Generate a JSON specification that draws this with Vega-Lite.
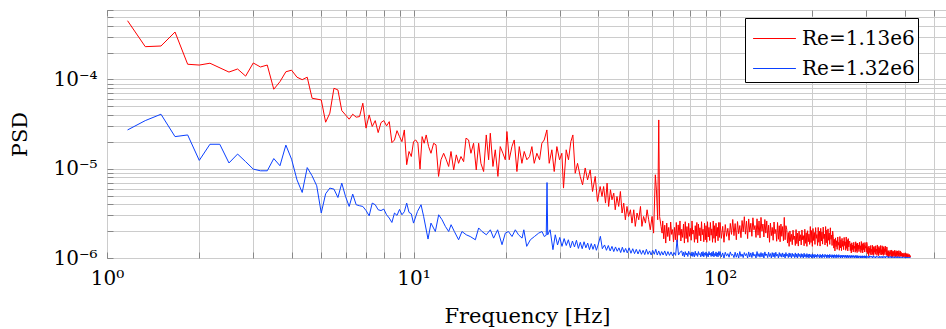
{
"$schema":"https://vega.github.io/schema/vega-lite/v6.json",
"width":840,"height":248,
"autosize":{"type":"none"},
"padding":{"left":107,"top":10,"right":0,"bottom":71},
"background":"white",
"config":{"font":"DejaVu Serif","view":{"stroke":"#222","strokeWidth":1}},
"datasets":{
"red":[{"f":1.167,"v":4.55e-4},{"f":1.333,"v":2.33e-4},{"f":1.5,"v":2.37e-4},{"f":1.667,"v":3.4e-4},{"f":1.833,"v":1.48e-4},{"f":2,"v":1.45e-4},{"f":2.167,"v":1.52e-4},{"f":2.5,"v":1.21e-4},{"f":2.667,"v":1.31e-4},{"f":2.833,"v":1.09e-4},{"f":3,"v":1.53e-4},{"f":3.167,"v":1.38e-4},{"f":3.333,"v":1.45e-4},{"f":3.5,"v":7.77e-5},{"f":3.667,"v":9.45e-5},{"f":3.833,"v":1.22e-4},{"f":4,"v":1.27e-4},{"f":4.167,"v":1.06e-4},{"f":4.333,"v":9.95e-5},{"f":4.5,"v":1.06e-4},{"f":4.667,"v":6.16e-5},{"f":5,"v":5.9e-5},{"f":5.167,"v":3.32e-5},{"f":5.333,"v":4.19e-5},{"f":5.5,"v":7.97e-5},{"f":5.667,"v":7.63e-5},{"f":5.833,"v":4.48e-5},{"f":6,"v":4.01e-5},{"f":6.167,"v":3.59e-5},{"f":6.333,"v":4.08e-5},{"f":6.5,"v":3.78e-5},{"f":6.667,"v":3.84e-5},{"f":6.833,"v":5.42e-5},{"f":7,"v":2.85e-5},{"f":7.167,"v":4.01e-5},{"f":7.333,"v":2.97e-5},{"f":7.5,"v":3.46e-5},{"f":7.667,"v":2.54e-5},{"f":7.833,"v":3.29e-5},{"f":8,"v":3.46e-5},{"f":8.167,"v":3.02e-5},{"f":8.333,"v":3.37e-5},{"f":8.5,"v":1.96e-5},{"f":8.667,"v":2.1e-5},{"f":8.833,"v":2.67e-5},{"f":9,"v":2.29e-5},{"f":9.167,"v":2.01e-5},{"f":9.333,"v":2.72e-5},{"f":9.5,"v":1.11e-5},{"f":9.667,"v":1.56e-5},{"f":9.833,"v":1.37e-5},{"f":10,"v":2.01e-5},{"f":10.167,"v":2.1e-5},{"f":10.333,"v":1.93e-5},{"f":10.5,"v":9.9e-6},{"f":10.667,"v":2.29e-5},{"f":10.833,"v":1.93e-5},{"f":11,"v":2.39e-5},{"f":11.2,"v":1.77e-5},{"f":11.4,"v":1.49e-5},{"f":11.63,"v":1.93e-5},{"f":11.84,"v":1.85e-5},{"f":12.07,"v":8.2e-6},{"f":12.29,"v":1.26e-5},{"f":12.54,"v":1.49e-5},{"f":12.79,"v":1.26e-5},{"f":13.02,"v":1.06e-5},{"f":13.25,"v":1.56e-5},{"f":13.52,"v":9.7e-6},{"f":13.79,"v":1.43e-5},{"f":14.03,"v":1.15e-5},{"f":14.28,"v":1.37e-5},{"f":14.57,"v":1.2e-5},{"f":14.83,"v":2.2e-5},{"f":15.12,"v":2.1e-5},{"f":15.39,"v":1.49e-5},{"f":15.7,"v":1.93e-5},{"f":16.02,"v":9.7e-6},{"f":16.31,"v":1.93e-5},{"f":16.59,"v":1.15e-5},{"f":16.93,"v":9.3e-6},{"f":17.27,"v":2.39e-5},{"f":17.58,"v":1.26e-5},{"f":17.8,"v":2.5e-5},{"f":18.16,"v":1.06e-5},{"f":18.48,"v":1.63e-5},{"f":18.85,"v":8.2e-6},{"f":19.18,"v":1.77e-5},{"f":19.57,"v":1.49e-5},{"f":19.92,"v":1.26e-5},{"f":20.17,"v":2.61e-5},{"f":20.52,"v":1.26e-5},{"f":20.94,"v":1.77e-5},{"f":21.31,"v":2.1e-5},{"f":21.74,"v":9.3e-6},{"f":22.13,"v":1.77e-5},{"f":22.57,"v":1.15e-5},{"f":22.97,"v":1.56e-5},{"f":23.43,"v":1.26e-5},{"f":23.91,"v":1.37e-5},{"f":24.33,"v":1.77e-5},{"f":24.76,"v":1.15e-5},{"f":25.26,"v":1.49e-5},{"f":25.77,"v":1.26e-5},{"f":26.22,"v":1.93e-5},{"f":26.69,"v":2.1e-5},{"f":27.23,"v":2.72e-5},{"f":27.71,"v":1.15e-5},{"f":28.27,"v":1.63e-5},{"f":28.77,"v":9.3e-6},{"f":29.35,"v":1.77e-5},{"f":29.95,"v":1.26e-5},{"f":30.47,"v":1.49e-5},{"f":30.85,"v":6.07e-6},{"f":31.48,"v":1.63e-5},{"f":32.03,"v":1.26e-5},{"f":32.6,"v":2.01e-5},{"f":33.1,"v":2.39e-5},{"f":33.69,"v":8.9e-6},{"f":34.28,"v":1.15e-5},{"f":34.98,"v":8.2e-6},{"f":35.6,"v":6.6e-6},{"f":36.31,"v":1.02e-5},{"f":36.96,"v":7.5e-6},{"f":37.7,"v":9.7e-6},{"f":38.37,"v":5.56e-6},{"f":39.15,"v":8.2e-6},{"f":39.83,"v":4.3e-6},{"f":40.63,"v":6.32e-6},{"f":41.2,"v":4.89e-6},{"f":41.7,"v":6.32e-6},{"f":42.3,"v":4.12e-6},{"f":42.8,"v":6.9e-6},{"f":43.3,"v":3.78e-6},{"f":43.9,"v":5.81e-6},{"f":44.4,"v":4.49e-6},{"f":45,"v":5.33e-6},{"f":45.5,"v":3.47e-6},{"f":46.1,"v":4.89e-6},{"f":46.7,"v":3.78e-6},{"f":47.3,"v":5.56e-6},{"f":47.9,"v":3.19e-6},{"f":48.5,"v":4.12e-6},{"f":49.1,"v":2.68e-6},{"f":49.7,"v":3.78e-6},{"f":50.3,"v":2.92e-6},{"f":51,"v":3.47e-6},{"f":51.6,"v":2.46e-6},{"f":52.3,"v":3.47e-6},{"f":52.9,"v":2.26e-6},{"f":53.6,"v":3.19e-6},{"f":54.3,"v":2.68e-6},{"f":55,"v":3.78e-6},{"f":55.6,"v":2.26e-6},{"f":56.3,"v":2.92e-6},{"f":57.1,"v":2.46e-6},{"f":57.8,"v":3.47e-6},{"f":58.5,"v":2.68e-6},{"f":59.2,"v":2.07e-6},{"f":60,"v":2.92e-6},{"f":60.7,"v":1.9e-6},{"f":61.5,"v":8.55e-6},{"f":62,"v":5.81e-6},{"f":62.6,"v":2.68e-6},{"f":63.1,"v":3.52e-5},{"f":63.5,"v":2.92e-6},{"f":64.2,"v":2.26e-6},{"f":64.7,"v":1.9e-6},
{"f":65,"v":2.6e-6},{"f":65.5,"v":1.64e-6},{"f":66,"v":2.33e-6},{"f":66.5,"v":1.47e-6},{"f":67,"v":2.46e-6},{"f":67.5,"v":1.74e-6},{"f":68,"v":2.2e-6},{"f":68.5,"v":1.56e-6},{"f":69,"v":2.53e-6},{"f":69.5,"v":1.84e-6},{"f":70,"v":2.08e-6},{"f":70.5,"v":1.51e-6},{"f":71,"v":2.2e-6},{"f":71.5,"v":1.6e-6},{"f":72,"v":2.5e-6},{"f":72.5,"v":1.5e-6},{"f":73,"v":2.35e-6},{"f":73.5,"v":1.8e-6},{"f":74,"v":2.6e-6},{"f":74.5,"v":1.55e-6},{"f":75,"v":2.1e-6},{"f":75.5,"v":1.7e-6},{"f":76,"v":2.4e-6},{"f":76.5,"v":1.47e-6},{"f":77,"v":2.55e-6},{"f":77.5,"v":1.65e-6},{"f":78,"v":2.25e-6},{"f":78.5,"v":1.5e-6},{"f":79,"v":2.45e-6},{"f":79.5,"v":1.75e-6},{"f":80,"v":2.15e-6},{"f":80.5,"v":1.58e-6},{"f":81,"v":2.6e-6},{"f":81.5,"v":1.85e-6},{"f":82,"v":2.05e-6},{"f":82.5,"v":1.5e-6},{"f":83,"v":2.3e-6},{"f":83.5,"v":1.62e-6},{"f":84,"v":2.5e-6},{"f":84.5,"v":1.48e-6},{"f":85,"v":2.4e-6},{"f":85.5,"v":1.78e-6},{"f":86,"v":2.18e-6},{"f":86.5,"v":1.55e-6},{"f":87,"v":2.55e-6},{"f":87.5,"v":1.82e-6},{"f":88,"v":2.1e-6},{"f":88.5,"v":1.52e-6},{"f":89,"v":2.45e-6},{"f":89.5,"v":1.6e-6},{"f":90,"v":2.3e-6},{"f":90.5,"v":1.5e-6},{"f":91,"v":2.55e-6},{"f":91.5,"v":1.72e-6},{"f":92,"v":2.2e-6},{"f":92.5,"v":1.57e-6},{"f":93,"v":2.5e-6},{"f":93.5,"v":1.8e-6},{"f":94,"v":2.12e-6},{"f":94.5,"v":1.5e-6},{"f":95,"v":2.6e-6},{"f":95.5,"v":1.66e-6},{"f":96,"v":2.3e-6},{"f":96.5,"v":1.49e-6},{"f":97,"v":2.45e-6},{"f":97.5,"v":1.76e-6},{"f":98,"v":2.2e-6},{"f":98.5,"v":1.56e-6},{"f":99,"v":2.5e-6},{"f":99.5,"v":1.7e-6},
{"f":100,"v":2.5e-6},{"f":101,"v":1.66e-6},{"f":102,"v":2.26e-6},{"f":103,"v":1.5e-6},{"f":104,"v":2.37e-6},{"f":105,"v":1.75e-6},{"f":106,"v":2.15e-6},{"f":107,"v":1.58e-6},{"f":108,"v":2.44e-6},{"f":109,"v":1.84e-6},{"f":110,"v":2.7e-6},{"f":111,"v":1.78e-6},{"f":112,"v":2.43e-6},{"f":113,"v":1.6e-6},{"f":114,"v":2.56e-6},{"f":115,"v":1.87e-6},{"f":116,"v":2.31e-6},{"f":117,"v":1.69e-6},{"f":118,"v":2.63e-6},{"f":119,"v":1.97e-6},{"f":120,"v":2.9e-6},{"f":121,"v":1.85e-6},{"f":122,"v":2.59e-6},{"f":123,"v":1.65e-6},{"f":124,"v":2.74e-6},{"f":125,"v":1.95e-6},{"f":126,"v":2.45e-6},{"f":127,"v":1.75e-6},{"f":128,"v":2.82e-6},{"f":129,"v":2.07e-6},{"f":130,"v":2.31e-6},{"f":131,"v":1.7e-6},{"f":132,"v":2.75e-6},{"f":133,"v":1.8e-6},{"f":134,"v":2.6e-6},{"f":135,"v":1.68e-6},{"f":136,"v":2.85e-6},{"f":137,"v":2.0e-6},{"f":138,"v":2.4e-6},{"f":139,"v":1.72e-6},{"f":140,"v":2.7e-6},{"f":141,"v":1.9e-6},{"f":142,"v":2.6e-6},{"f":143,"v":1.68e-6},{"f":144,"v":2.33e-6},{"f":145,"v":1.5e-6},{"f":146,"v":2.46e-6},{"f":147,"v":1.78e-6},{"f":148,"v":2.2e-6},{"f":149,"v":1.58e-6},{"f":150,"v":2.53e-6},{"f":151,"v":1.87e-6},{"f":152,"v":2.09e-6},{"f":153,"v":1.54e-6},{"f":154,"v":2.5e-6},{"f":155,"v":1.62e-6},{"f":156,"v":2.3e-6},{"f":157,"v":1.52e-6},{"f":158,"v":2.4e-6},{"f":159,"v":1.75e-6},{"f":160,"v":2.25e-6},{"f":161,"v":1.56e-6},{"f":162,"v":2.85e-6},{"f":163,"v":1.6e-6},{"f":164,"v":2.3e-6},{"f":165,"v":2.1e-6},{"f":166,"v":1.47e-6},{"f":167,"v":1.93e-6},{"f":168,"v":1.35e-6},{"f":169,"v":2.01e-6},{"f":170,"v":1.53e-6},{"f":171,"v":1.84e-6},{"f":172,"v":1.41e-6},{"f":173,"v":2.05e-6},{"f":174,"v":1.61e-6},{"f":175,"v":1.76e-6},{"f":176,"v":1.38e-6},{"f":177,"v":2.08e-6},{"f":178,"v":1.45e-6},{"f":179,"v":1.9e-6},{"f":180,"v":1.36e-6},{"f":181,"v":2.0e-6},{"f":182,"v":1.55e-6},{"f":183,"v":1.82e-6},{"f":184,"v":1.4e-6},{"f":185,"v":2.06e-6},{"f":186,"v":1.6e-6},{"f":187,"v":1.78e-6},{"f":188,"v":1.37e-6},{"f":189,"v":2.1e-6},{"f":190,"v":1.46e-6},{"f":191,"v":1.92e-6},{"f":192,"v":1.35e-6},{"f":193,"v":2.02e-6},{"f":194,"v":1.52e-6},{"f":195,"v":1.85e-6},{"f":196,"v":1.42e-6},{"f":197,"v":2.25e-6},{"f":198,"v":1.49e-6},{"f":199,"v":2.03e-6},{"f":200,"v":1.35e-6},{"f":201,"v":2.14e-6},{"f":202,"v":1.57e-6},{"f":203,"v":1.93e-6},{"f":204,"v":1.42e-6},{"f":205,"v":2.19e-6},{"f":206,"v":1.66e-6},{"f":207,"v":1.83e-6},{"f":208,"v":1.38e-6},{"f":209,"v":2.2e-6},{"f":210,"v":1.5e-6},{"f":211,"v":2.0e-6},{"f":212,"v":1.36e-6},{"f":213,"v":2.15e-6},{"f":214,"v":1.55e-6},{"f":215,"v":1.95e-6},{"f":216,"v":1.43e-6},{"f":217,"v":2.22e-6},{"f":218,"v":1.65e-6},{"f":219,"v":1.85e-6},{"f":220,"v":1.4e-6},{"f":221,"v":2.25e-6},{"f":222,"v":1.48e-6},{"f":223,"v":2.05e-6},{"f":224,"v":1.35e-6},{"f":225,"v":2.12e-6},{"f":226,"v":1.58e-6},{"f":227,"v":1.9e-6},{"f":228,"v":1.42e-6},{"f":229,"v":2.18e-6},{"f":230,"v":1.62e-6},{"f":231,"v":1.8e-6},{"f":232,"v":1.38e-6},{"f":233,"v":2.0e-6},{"f":234,"v":1.75e-6},{"f":235,"v":1.29e-6},{"f":236,"v":1.62e-6},{"f":237,"v":1.2e-6},{"f":238,"v":1.68e-6},{"f":239,"v":1.34e-6},{"f":240,"v":1.56e-6},{"f":241,"v":1.25e-6},{"f":242,"v":1.72e-6},{"f":243,"v":1.39e-6},{"f":244,"v":1.5e-6},{"f":245,"v":1.22e-6},{"f":246,"v":1.74e-6},{"f":247,"v":1.3e-6},{"f":248,"v":1.6e-6},{"f":249,"v":1.21e-6},{"f":250,"v":1.66e-6},{"f":251,"v":1.35e-6},{"f":252,"v":1.55e-6},{"f":253,"v":1.24e-6},{"f":254,"v":1.7e-6},{"f":255,"v":1.38e-6},{"f":256,"v":1.52e-6},{"f":257,"v":1.22e-6},{"f":258,"v":1.72e-6},{"f":259,"v":1.28e-6},{"f":260,"v":1.6e-6},{"f":261,"v":1.2e-6},{"f":262,"v":1.65e-6},{"f":263,"v":1.33e-6},{"f":264,"v":1.55e-6},{"f":265,"v":1.53e-6},{"f":266,"v":1.21e-6},{"f":267,"v":1.44e-6},{"f":268,"v":1.14e-6},{"f":269,"v":1.48e-6},{"f":270,"v":1.24e-6},{"f":271,"v":1.4e-6},{"f":272,"v":1.17e-6},{"f":273,"v":1.5e-6},{"f":274,"v":1.28e-6},{"f":275,"v":1.36e-6},{"f":276,"v":1.16e-6},{"f":277,"v":1.52e-6},{"f":278,"v":1.2e-6},{"f":279,"v":1.45e-6},{"f":280,"v":1.15e-6},{"f":281,"v":1.47e-6},{"f":282,"v":1.25e-6},{"f":283,"v":1.39e-6},{"f":284,"v":1.18e-6},{"f":285,"v":1.5e-6},{"f":286,"v":1.27e-6},{"f":287,"v":1.37e-6},{"f":288,"v":1.15e-6},{"f":289,"v":1.53e-6},{"f":290,"v":1.22e-6},{"f":291,"v":1.43e-6},{"f":292,"v":1.14e-6},{"f":293,"v":1.48e-6},{"f":294,"v":1.24e-6},{"f":295,"v":1.41e-6},{"f":296,"v":1.17e-6},{"f":297,"v":1.49e-6},{"f":298,"v":1.29e-6},{"f":299,"v":1.35e-6},{"f":300,"v":1.16e-6},{"f":301,"v":1.5e-6},{"f":302,"v":1.4e-6},{"f":303,"v":1.12e-6},{"f":304,"v":1.32e-6},{"f":305,"v":1.06e-6},{"f":306,"v":1.36e-6},{"f":307,"v":1.15e-6},{"f":308,"v":1.29e-6},{"f":309,"v":1.09e-6},{"f":310,"v":1.38e-6},{"f":311,"v":1.18e-6},{"f":312,"v":1.25e-6},{"f":313,"v":1.08e-6},{"f":314,"v":1.39e-6},{"f":315,"v":1.11e-6},{"f":316,"v":1.33e-6},{"f":317,"v":1.07e-6},{"f":318,"v":1.35e-6},{"f":319,"v":1.16e-6},{"f":320,"v":1.28e-6},{"f":321,"v":1.1e-6},{"f":322,"v":1.37e-6},{"f":323,"v":1.19e-6},{"f":324,"v":1.26e-6},{"f":325,"v":1.07e-6},{"f":326,"v":1.4e-6},{"f":327,"v":1.12e-6},{"f":328,"v":1.31e-6},{"f":329,"v":1.06e-6},{"f":330,"v":1.35e-6},{"f":331,"v":1.14e-6},{"f":332,"v":1.29e-6},{"f":333,"v":1.09e-6},{"f":334,"v":1.38e-6},{"f":335,"v":1.17e-6},{"f":336,"v":1.24e-6},{"f":337,"v":1.08e-6},{"f":338,"v":1.37e-6},{"f":339,"v":1.11e-6},{"f":340,"v":1.32e-6},{"f":341,"v":1.07e-6},{"f":342,"v":1.34e-6},{"f":343,"v":1.15e-6},{"f":344,"v":1.27e-6},{"f":345,"v":1.09e-6},{"f":346,"v":1.36e-6},{"f":347,"v":1.18e-6},{"f":348,"v":1.25e-6},{"f":349,"v":1.07e-6},{"f":350,"v":1.33e-6},{"f":351,"v":1.24e-6},{"f":352,"v":1.06e-6},{"f":353,"v":1.19e-6},{"f":354,"v":1.02e-6},{"f":355,"v":1.21e-6},{"f":356,"v":1.08e-6},{"f":357,"v":1.17e-6},{"f":358,"v":1.04e-6},{"f":359,"v":1.22e-6},{"f":360,"v":1.1e-6},{"f":361,"v":1.14e-6},{"f":362,"v":1.03e-6},{"f":363,"v":1.23e-6},{"f":364,"v":1.05e-6},{"f":365,"v":1.18e-6},{"f":366,"v":1.02e-6},{"f":367,"v":1.2e-6},{"f":368,"v":1.07e-6},{"f":369,"v":1.16e-6},{"f":370,"v":1.04e-6},{"f":371,"v":1.22e-6},{"f":372,"v":1.09e-6},{"f":373,"v":1.15e-6},{"f":374,"v":1.03e-6},{"f":375,"v":1.21e-6},{"f":376,"v":1.06e-6},{"f":377,"v":1.18e-6},{"f":378,"v":1.02e-6},{"f":379,"v":1.2e-6},{"f":380,"v":1.08e-6},{"f":381,"v":1.16e-6},{"f":382,"v":1.04e-6},{"f":383,"v":1.21e-6},{"f":384,"v":1.1e-6},{"f":385,"v":1.14e-6},{"f":386,"v":1.03e-6},{"f":387,"v":1.2e-6},{"f":388,"v":1.05e-6},{"f":389,"v":1.17e-6},{"f":390,"v":1.15e-6},{"f":391,"v":1.05e-6},{"f":392,"v":1.12e-6},{"f":393,"v":1.02e-6},{"f":394,"v":1.13e-6},{"f":395,"v":1.06e-6},{"f":396,"v":1.1e-6},{"f":397,"v":1.03e-6},{"f":398,"v":1.14e-6},{"f":399,"v":1.07e-6},{"f":400,"v":1.09e-6},{"f":401,"v":1.02e-6},{"f":402,"v":1.14e-6},{"f":403,"v":1.04e-6},{"f":404,"v":1.11e-6},{"f":405,"v":1.02e-6},{"f":406,"v":1.12e-6},{"f":407,"v":1.05e-6},{"f":408,"v":1.09e-6},{"f":409,"v":1.02e-6},{"f":410,"v":1.12e-6},{"f":411,"v":1.06e-6},{"f":412,"v":1.08e-6},{"f":413,"v":1.02e-6},{"f":414,"v":1.1e-6},{"f":415,"v":1.04e-6},{"f":416,"v":1.07e-6},{"f":417,"v":1.02e-6},{"f":418,"v":1.06e-6}],
"blue":[{"f":1.167,"v":2.72e-5},{"f":1.333,"v":3.46e-5},{"f":1.5,"v":4.08e-5},{"f":1.667,"v":2.29e-5},{"f":1.833,"v":2.39e-5},{"f":2,"v":1.24e-5},{"f":2.167,"v":1.88e-5},{"f":2.333,"v":1.88e-5},{"f":2.5,"v":1.16e-5},{"f":2.667,"v":1.46e-5},{"f":2.833,"v":1.2e-5},{"f":3,"v":9.9e-6},{"f":3.167,"v":9.48e-6},{"f":3.333,"v":9.48e-6},{"f":3.5,"v":1.3e-5},{"f":3.667,"v":1.08e-5},{"f":3.833,"v":1.84e-5},{"f":4,"v":1.28e-5},{"f":4.167,"v":7.5e-6},{"f":4.333,"v":5.42e-6},{"f":4.5,"v":1.03e-5},{"f":4.667,"v":8.33e-6},{"f":4.833,"v":6.44e-6},{"f":5,"v":3.19e-6},{"f":5.167,"v":5.24e-6},{"f":5.333,"v":6.07e-6},{"f":5.5,"v":5.91e-6},{"f":5.667,"v":4.76e-6},{"f":5.833,"v":6.9e-6},{"f":6,"v":4.89e-6},{"f":6.167,"v":3.78e-6},{"f":6.333,"v":5.2e-6},{"f":6.5,"v":3.95e-6},{"f":6.667,"v":3.85e-6},{"f":6.833,"v":3.78e-6},{"f":7,"v":3.4e-6},{"f":7.167,"v":2.97e-6},{"f":7.333,"v":4.12e-6},{"f":7.5,"v":3.95e-6},{"f":7.667,"v":3.47e-6},{"f":7.833,"v":3.4e-6},{"f":8,"v":3.53e-6},{"f":8.167,"v":3.05e-6},{"f":8.333,"v":2.8e-6},{"f":8.5,"v":2.5e-6},{"f":8.667,"v":3.19e-6},{"f":8.833,"v":3.0e-6},{"f":9,"v":3.5e-6},{"f":9.167,"v":3.05e-6},{"f":9.333,"v":3.3e-6},{"f":9.5,"v":4.12e-6},{"f":9.667,"v":3.24e-6},{"f":9.833,"v":3.13e-6},{"f":10,"v":2.46e-6},{"f":10.3,"v":3.32e-6},{"f":10.58,"v":3.95e-6},{"f":10.79,"v":2.92e-6},{"f":11.15,"v":1.63e-6},{"f":11.4,"v":2.46e-6},{"f":11.78,"v":1.98e-6},{"f":12.08,"v":3.05e-6},{"f":12.39,"v":2.68e-6},{"f":12.7,"v":2.26e-6},{"f":13.02,"v":1.98e-6},{"f":13.26,"v":2.36e-6},{"f":13.59,"v":1.98e-6},{"f":14.03,"v":1.6e-6},{"f":14.39,"v":1.98e-6},{"f":14.86,"v":1.82e-6},{"f":15.31,"v":1.74e-6},{"f":15.91,"v":1.6e-6},{"f":16.31,"v":2.17e-6},{"f":16.73,"v":1.98e-6},{"f":17.28,"v":1.82e-6},{"f":17.81,"v":2.07e-6},{"f":18.25,"v":1.67e-6},{"f":18.81,"v":2.07e-6},{"f":19.44,"v":1.41e-6},{"f":19.93,"v":1.9e-6},{"f":20.4,"v":1.98e-6},{"f":20.96,"v":1.74e-6},{"f":21.48,"v":2.07e-6},{"f":22,"v":1.82e-6},{"f":22.6,"v":1.67e-6},{"f":22.9,"v":2.07e-6},{"f":23.4,"v":1.35e-6},{"f":24.05,"v":1.6e-6},{"f":24.8,"v":1.74e-6},{"f":25.6,"v":1.9e-6},{"f":26.25,"v":1.98e-6},{"f":26.7,"v":1.74e-6},{"f":27.1,"v":1.8e-6},{"f":27.26,"v":7.0e-6},{"f":27.4,"v":1.82e-6},{"f":27.9,"v":2.07e-6},{"f":28.5,"v":1.24e-6},{"f":29,"v":1.82e-6},{"f":29.5,"v":1.4e-6},{"f":30,"v":1.7e-6},{"f":30.5,"v":1.35e-6},{"f":31,"v":1.65e-6},{"f":31.5,"v":1.38e-6},{"f":32,"v":1.6e-6},{"f":32.5,"v":1.3e-6},{"f":33,"v":1.55e-6},{"f":33.5,"v":1.33e-6},{"f":34,"v":1.58e-6},{"f":34.5,"v":1.28e-6},{"f":35,"v":1.5e-6},{"f":35.5,"v":1.27e-6},{"f":36,"v":1.52e-6},{"f":36.5,"v":1.3e-6},{"f":37,"v":1.47e-6},{"f":37.5,"v":1.24e-6},{"f":38,"v":1.45e-6},{"f":38.5,"v":1.25e-6},{"f":39,"v":1.43e-6},{"f":39.5,"v":1.22e-6},{"f":40,"v":1.4e-6},{"f":40.7,"v":1.75e-6},{"f":41.3,"v":1.27e-6},{"f":42,"v":1.4e-6},{"f":42.6,"v":1.22e-6},{"f":43.2,"v":1.38e-6},{"f":43.8,"v":1.2e-6},{"f":44.4,"v":1.35e-6},{"f":45,"v":1.18e-6},{"f":45.6,"v":1.33e-6},{"f":46.2,"v":1.19e-6},{"f":46.8,"v":1.3e-6},{"f":47.4,"v":1.15e-6},{"f":48,"v":1.32e-6},{"f":48.6,"v":1.16e-6},{"f":49.2,"v":1.28e-6},{"f":49.8,"v":1.14e-6},{"f":50.5,"v":1.3e-6},{"f":51.2,"v":1.13e-6},{"f":51.9,"v":1.27e-6},{"f":52.6,"v":1.12e-6},{"f":53.3,"v":1.25e-6},{"f":54,"v":1.11e-6},{"f":54.7,"v":1.24e-6},{"f":55.4,"v":1.1e-6},{"f":56.1,"v":1.22e-6},{"f":56.8,"v":1.09e-6},{"f":57.5,"v":1.25e-6},{"f":58.2,"v":1.1e-6},{"f":58.9,"v":1.2e-6},{"f":59.6,"v":1.08e-6},{"f":60.3,"v":1.22e-6},{"f":61,"v":1.1e-6},{"f":61.7,"v":1.25e-6},{"f":62.4,"v":1.08e-6},{"f":63.1,"v":1.2e-6},{"f":63.8,"v":1.07e-6},{"f":64.5,"v":1.18e-6},{"f":65.2,"v":1.08e-6},{"f":66,"v":1.2e-6},{"f":66.8,"v":1.06e-6},{"f":67.6,"v":1.18e-6},{"f":68.4,"v":1.07e-6},{"f":69.2,"v":1.17e-6},{"f":70,"v":1.06e-6},{"f":70.8,"v":1.15e-6},{"f":71.6,"v":1.07e-6},{"f":72.4,"v":1.6e-6},{"f":73.2,"v":1.08e-6},{"f":74,"v":1.16e-6},
{"f":75,"v":1.2e-6},{"f":75.5,"v":1.06e-6},{"f":76,"v":1.16e-6},{"f":76.5,"v":1.03e-6},{"f":77,"v":1.18e-6},{"f":77.5,"v":1.08e-6},{"f":78,"v":1.14e-6},{"f":78.5,"v":1.04e-6},{"f":79,"v":1.19e-6},{"f":79.5,"v":1.1e-6},{"f":80,"v":1.12e-6},{"f":80.5,"v":1.05e-6},{"f":81,"v":1.17e-6},{"f":81.5,"v":1.04e-6},{"f":82,"v":1.15e-6},{"f":82.5,"v":1.03e-6},{"f":83,"v":1.19e-6},{"f":83.5,"v":1.07e-6},{"f":84,"v":1.13e-6},{"f":84.5,"v":1.04e-6},{"f":85,"v":1.18e-6},{"f":85.5,"v":1.09e-6},{"f":86,"v":1.12e-6},{"f":86.5,"v":1.03e-6},{"f":87,"v":1.16e-6},{"f":87.5,"v":1.05e-6},{"f":88,"v":1.18e-6},{"f":88.5,"v":1.03e-6},{"f":89,"v":1.14e-6},{"f":89.5,"v":1.07e-6},{"f":90,"v":1.17e-6},{"f":90.5,"v":1.04e-6},{"f":91,"v":1.12e-6},{"f":91.5,"v":1.03e-6},{"f":92,"v":1.18e-6},{"f":92.5,"v":1.08e-6},{"f":93,"v":1.13e-6},{"f":93.5,"v":1.04e-6},{"f":94,"v":1.16e-6},{"f":94.5,"v":1.05e-6},{"f":95,"v":1.19e-6},{"f":95.5,"v":1.03e-6},{"f":96,"v":1.12e-6},{"f":96.5,"v":1.06e-6},{"f":97,"v":1.17e-6},{"f":97.5,"v":1.04e-6},{"f":98,"v":1.14e-6},{"f":98.5,"v":1.03e-6},{"f":99,"v":1.18e-6},{"f":99.5,"v":1.07e-6},
{"f":100,"v":1.18e-6},{"f":101,"v":1.03e-6},{"f":102,"v":1.14e-6},{"f":103,"v":1.0e-6},{"f":104,"v":1.16e-6},{"f":105,"v":1.05e-6},{"f":106,"v":1.12e-6},{"f":107,"v":1.02e-6},{"f":108,"v":1.17e-6},{"f":109,"v":1.07e-6},{"f":110,"v":1.1e-6},{"f":111,"v":1.01e-6},{"f":112,"v":1.16e-6},{"f":113,"v":1.02e-6},{"f":114,"v":1.13e-6},{"f":115,"v":1.0e-6},{"f":116,"v":1.18e-6},{"f":117,"v":1.04e-6},{"f":118,"v":1.11e-6},{"f":119,"v":1.01e-6},{"f":120,"v":1.15e-6},{"f":121,"v":1.06e-6},{"f":122,"v":1.12e-6},{"f":123,"v":1.0e-6},{"f":124,"v":1.17e-6},{"f":125,"v":1.03e-6},{"f":126,"v":1.14e-6},{"f":127,"v":1.01e-6},{"f":128,"v":1.16e-6},{"f":129,"v":1.05e-6},{"f":130,"v":1.1e-6},{"f":131,"v":1.0e-6},{"f":132,"v":1.18e-6},{"f":133,"v":1.04e-6},{"f":134,"v":1.12e-6},{"f":135,"v":1.02e-6},{"f":136,"v":1.15e-6},{"f":137,"v":1.03e-6},{"f":138,"v":1.13e-6},{"f":139,"v":1.0e-6},{"f":140,"v":1.17e-6},{"f":141,"v":1.06e-6},{"f":142,"v":1.11e-6},{"f":143,"v":1.01e-6},{"f":144,"v":1.16e-6},{"f":145,"v":1.04e-6},{"f":146,"v":1.12e-6},{"f":147,"v":1.0e-6},{"f":148,"v":1.15e-6},{"f":149,"v":1.03e-6},{"f":150,"v":1.14e-6},{"f":151,"v":1.01e-6},{"f":152,"v":1.16e-6},{"f":153,"v":1.05e-6},{"f":154,"v":1.1e-6},{"f":155,"v":1.0e-6},{"f":156,"v":1.15e-6},{"f":157,"v":1.04e-6},{"f":158,"v":1.12e-6},{"f":159,"v":1.02e-6},{"f":160,"v":1.14e-6},{"f":161,"v":1.03e-6},{"f":162,"v":1.11e-6},{"f":163,"v":1.0e-6},{"f":164,"v":1.15e-6},{"f":165,"v":1.05e-6},{"f":166,"v":1.1e-6},{"f":167,"v":1.01e-6},{"f":168,"v":1.14e-6},{"f":169,"v":1.03e-6},{"f":170,"v":1.12e-6},{"f":171,"v":1.0e-6},{"f":172,"v":1.13e-6},{"f":173,"v":1.04e-6},{"f":174,"v":1.1e-6},{"f":175,"v":1.01e-6},{"f":176,"v":1.14e-6},{"f":177,"v":1.02e-6},{"f":178,"v":1.11e-6},{"f":179,"v":1.0e-6},{"f":180,"v":1.13e-6},{"f":181,"v":1.04e-6},{"f":182,"v":1.1e-6},{"f":183,"v":1.01e-6},{"f":184,"v":1.12e-6},{"f":185,"v":1.02e-6},{"f":186,"v":1.1e-6},{"f":187,"v":1.0e-6},{"f":188,"v":1.13e-6},{"f":189,"v":1.03e-6},{"f":190,"v":1.09e-6},{"f":191,"v":1.01e-6},{"f":192,"v":1.12e-6},{"f":193,"v":1.02e-6},{"f":194,"v":1.1e-6},{"f":195,"v":1.0e-6},{"f":196,"v":1.11e-6},{"f":197,"v":1.03e-6},{"f":198,"v":1.09e-6},{"f":199,"v":1.0e-6},{"f":200,"v":1.11e-6},{"f":201,"v":1.02e-6},{"f":202,"v":1.09e-6},{"f":203,"v":1.0e-6},{"f":204,"v":1.1e-6},{"f":205,"v":1.03e-6},{"f":206,"v":1.08e-6},{"f":207,"v":1.01e-6},{"f":208,"v":1.11e-6},{"f":209,"v":1.04e-6},{"f":210,"v":1.07e-6},{"f":211,"v":1.0e-6},{"f":212,"v":1.1e-6},{"f":213,"v":1.02e-6},{"f":214,"v":1.08e-6},{"f":215,"v":1.0e-6},{"f":216,"v":1.11e-6},{"f":217,"v":1.03e-6},{"f":218,"v":1.07e-6},{"f":219,"v":1.01e-6},{"f":220,"v":1.1e-6},{"f":221,"v":1.04e-6},{"f":222,"v":1.08e-6},{"f":223,"v":1.0e-6},{"f":224,"v":1.09e-6},{"f":225,"v":1.02e-6},{"f":226,"v":1.08e-6},{"f":227,"v":1.0e-6},{"f":228,"v":1.1e-6},{"f":229,"v":1.03e-6},{"f":230,"v":1.07e-6},{"f":231,"v":1.01e-6},{"f":232,"v":1.09e-6},{"f":233,"v":1.02e-6},{"f":234,"v":1.08e-6},{"f":235,"v":1.0e-6},{"f":236,"v":1.09e-6},{"f":237,"v":1.03e-6},{"f":238,"v":1.07e-6},{"f":239,"v":1.0e-6},{"f":240,"v":1.09e-6},{"f":241,"v":1.02e-6},{"f":242,"v":1.07e-6},{"f":243,"v":1.01e-6},{"f":244,"v":1.09e-6},{"f":245,"v":1.03e-6},{"f":246,"v":1.06e-6},{"f":247,"v":1.0e-6},{"f":248,"v":1.08e-6},{"f":249,"v":1.02e-6},{"f":250,"v":1.07e-6},{"f":251,"v":1.0e-6},{"f":252,"v":1.08e-6},{"f":253,"v":1.03e-6},{"f":254,"v":1.06e-6},{"f":255,"v":1.01e-6},{"f":256,"v":1.08e-6},{"f":257,"v":1.02e-6},{"f":258,"v":1.06e-6},{"f":259,"v":1.0e-6},{"f":260,"v":1.08e-6},{"f":261,"v":1.02e-6},{"f":262,"v":1.06e-6},{"f":263,"v":1.0e-6},{"f":264,"v":1.07e-6},{"f":265,"v":1.03e-6},{"f":266,"v":1.06e-6},{"f":267,"v":1.0e-6},{"f":268,"v":1.07e-6},{"f":269,"v":1.02e-6},{"f":270,"v":1.06e-6},{"f":271,"v":1.01e-6},{"f":272,"v":1.07e-6},{"f":273,"v":1.02e-6},{"f":274,"v":1.05e-6},{"f":275,"v":1.0e-6},{"f":276,"v":1.07e-6},{"f":277,"v":1.02e-6},{"f":278,"v":1.06e-6},{"f":279,"v":1.0e-6},{"f":280,"v":1.07e-6},{"f":281,"v":1.01e-6},{"f":282,"v":1.05e-6},{"f":283,"v":1.0e-6},{"f":284,"v":1.06e-6},{"f":285,"v":1.02e-6},{"f":286,"v":1.05e-6},{"f":287,"v":1.0e-6},{"f":288,"v":1.06e-6},{"f":289,"v":1.01e-6},{"f":290,"v":1.05e-6},{"f":291,"v":1.0e-6},{"f":292,"v":1.06e-6},{"f":293,"v":1.02e-6},{"f":294,"v":1.05e-6},{"f":295,"v":1.0e-6},{"f":296,"v":1.06e-6},{"f":297,"v":1.01e-6},{"f":298,"v":1.05e-6},{"f":299,"v":1.0e-6},{"f":300,"v":1.06e-6},{"f":302,"v":1.01e-6},{"f":304,"v":1.05e-6},{"f":306,"v":1.0e-6},{"f":308,"v":1.06e-6},{"f":310,"v":1.02e-6},{"f":312,"v":1.05e-6},{"f":314,"v":1.0e-6},{"f":316,"v":1.06e-6},{"f":318,"v":1.01e-6},{"f":320,"v":1.04e-6},{"f":322,"v":1.0e-6},{"f":324,"v":1.05e-6},{"f":326,"v":1.02e-6},{"f":328,"v":1.04e-6},{"f":330,"v":1.0e-6},{"f":332,"v":1.05e-6},{"f":334,"v":1.01e-6},{"f":336,"v":1.04e-6},{"f":338,"v":1.0e-6},{"f":340,"v":1.05e-6},{"f":342,"v":1.01e-6},{"f":344,"v":1.04e-6},{"f":346,"v":1.0e-6},{"f":348,"v":1.05e-6},{"f":350,"v":1.02e-6},{"f":352,"v":1.04e-6},{"f":354,"v":1.0e-6},{"f":356,"v":1.04e-6},{"f":358,"v":1.01e-6},{"f":360,"v":1.04e-6},{"f":362,"v":1.0e-6},{"f":364,"v":1.04e-6},{"f":366,"v":1.01e-6},{"f":368,"v":1.03e-6},{"f":370,"v":1.0e-6},{"f":372,"v":1.04e-6},{"f":374,"v":1.01e-6},{"f":376,"v":1.03e-6},{"f":378,"v":1.0e-6},{"f":380,"v":1.04e-6},{"f":382,"v":1.01e-6},{"f":384,"v":1.03e-6},{"f":386,"v":1.0e-6},{"f":388,"v":1.03e-6},{"f":390,"v":1.01e-6},{"f":392,"v":1.03e-6},{"f":394,"v":1.0e-6},{"f":396,"v":1.03e-6},{"f":398,"v":1.01e-6},{"f":400,"v":1.02e-6},{"f":402,"v":1.0e-6},{"f":404,"v":1.03e-6},{"f":406,"v":1.0e-6},{"f":408,"v":1.02e-6},{"f":410,"v":1.0e-6},{"f":412,"v":1.02e-6},{"f":414,"v":1.0e-6},{"f":416,"v":1.02e-6},{"f":418,"v":1.0e-6}]
},
"layer":[
{"data":{"name":"red"},
 "mark":{"type":"line","strokeWidth":1,"clip":true},
 "encoding":{
  "x":{"field":"f","type":"quantitative","scale":{"type":"log","domain":[1,550],"nice":false},
   "axis":{"orient":"bottom","values":[1,2,3,4,5,6,7,8,9,10,20,30,40,50,60,70,80,90,100,200,300,400,500],
    "labelExpr":"datum.value==1?'10⁰':datum.value==10?'10¹':datum.value==100?'10²':''",
    "grid":true,"gridColor":"#cccccc","gridWidth":1,"domain":false,"ticks":true,"tickSize":-6,"tickColor":"#888888",
    "labelFont":"DejaVu Serif","labelFontSize":20,"labelColor":"#000","labelPadding":16,"labelBaseline":"top","labelFlush":false,"labelOverlap":false,"labelBound":false,
    "title":"Frequency [Hz]","titleFont":"DejaVu Serif","titleFontSize":21,"titleFontWeight":"normal","titleColor":"#000","titleBaseline":"alphabetic","titleY":64}},
  "y":{"field":"v","type":"quantitative","scale":{"type":"log","domain":[1e-6,6e-4],"nice":false},
   "axis":{"values":[1e-6,2e-6,3e-6,4e-6,5e-6,6e-6,7e-6,8e-6,9e-6,1e-5,2e-5,3e-5,4e-5,5e-5,6e-5,7e-5,8e-5,9e-5,1e-4,2e-4,3e-4,4e-4,5e-4,6e-4],
    "labelExpr":"datum.value==0.0001?'10⁻⁴':datum.value==0.00001?'10⁻⁵':datum.value==0.000001?'10⁻⁶':''",
    "grid":true,"gridColor":"#cccccc","gridWidth":1,"domain":false,"ticks":true,"tickSize":-6,"tickColor":"#888888",
    "labelFont":"DejaVu Serif","labelFontSize":20,"labelColor":"#000","labelPadding":16,"labelOverlap":false,"labelBound":false,
    "title":"PSD","titleFont":"DejaVu Serif","titleFontSize":21,"titleFontWeight":"normal","titleColor":"#000","titleBaseline":"alphabetic","titleX":-81,"titleY":124,"titleAngle":270,"titleAlign":"center"}},
  "color":{"datum":"Re=1.13e6","type":"nominal","scale":{"domain":["Re=1.13e6","Re=1.32e6"],"range":["#ff0000","#0a40ff"]},
   "legend":{"orient":"none","legendX":638,"legendY":8,"title":null,"symbolType":"M-1.26,0H1.26","symbolStrokeWidth":1,"symbolSize":1156,"symbolOffset":9,
    "labelFont":"DejaVu Serif","labelFontSize":20,"labelColor":"#000","labelExpr":"datum.label + '  '","strokeColor":"#000","fillColor":"#fff","padding":3,"cornerRadius":0,"rowPadding":2,"labelOffset":10}}
 }},
{"data":{"name":"blue"},
 "mark":{"type":"line","strokeWidth":1,"clip":true},
 "encoding":{
  "x":{"field":"f","type":"quantitative","axis":null},
  "y":{"field":"v","type":"quantitative"},
  "color":{"datum":"Re=1.32e6","type":"nominal"}
 }},
{"data":{"name":"red"},
 "mark":{"type":"line","opacity":0},
 "encoding":{
  "x":{"field":"f","type":"quantitative","axis":{"orient":"top","values":[1,2,3,4,5,6,7,8,9,10,20,30,40,50,60,70,80,90,100,200,300,400,500],"labels":false,"grid":false,"domain":false,"tickSize":-6,"tickColor":"#888888","title":null}},
  "y":{"field":"v","type":"quantitative"}
 }}
],
"resolve":{"axis":{"x":"independent"}}
}
